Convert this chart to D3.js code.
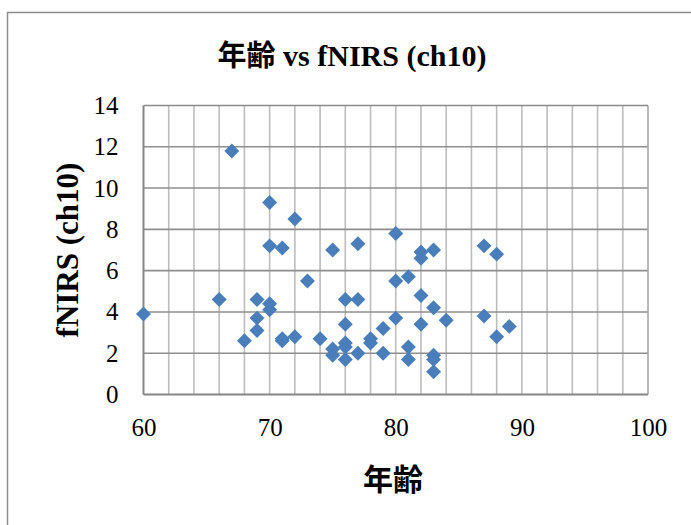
<!DOCTYPE html>
<html>
<head>
<meta charset="utf-8">
<script src="https://cdn.jsdelivr.net/npm/d3@7"></script>
<style>
  body { margin: 0; background: #fff; }
  .serif { font-family: "Liberation Serif", "Times New Roman", "DejaVu Serif", serif; }
</style>
</head>
<body>
<div class="scatter"></div>
<script>
// data
var ages  = [60, 66, 67, 68, 69, 69, 69, 70, 70, 70, 70, 71, 71, 71, 72, 72, 73, 74,
             75, 75, 75, 76, 76, 76, 76, 76, 77, 77, 77, 78, 78, 79, 79, 80, 80, 80,
             81, 81, 81, 82, 82, 82, 82, 83, 83, 83, 83, 83, 84, 87, 87, 88, 88, 89];
var fnirs = [3.9, 4.6, 11.8, 2.6, 4.6, 3.7, 3.1, 9.3, 7.2, 4.4, 4.1, 7.1, 2.7, 2.6, 8.5, 2.8, 5.5, 2.7,
             7.0, 2.2, 1.9, 4.6, 3.4, 2.5, 2.3, 1.7, 7.3, 4.6, 2.0, 2.7, 2.5, 3.2, 2.0, 7.8, 5.5, 3.7,
             5.7, 2.3, 1.7, 6.9, 6.6, 4.8, 3.4, 7.0, 4.2, 1.9, 1.7, 1.1, 3.6, 7.2, 3.8, 6.8, 2.8, 3.3];
var xTicks = [60, 70, 80, 90, 100];
var yTicks = [0, 2, 4, 6, 8, 10, 12, 14];

var titleJa = "年齢",
    titleEn = " vs fNIRS (ch10)",
    xTitle = "年齢",
    yTitle = "fNIRS (ch10)";

// graph
var W = 691, H = 525,
    margin = {top: 105.5, right: 43, bottom: 130.5, left: 143.5},
    width = W - margin.left - margin.right,
    height = H - margin.top - margin.bottom;

var svg = d3.select(".scatter").append("svg")
    .attr("width", W)
    .attr("height", H);

// outer chart frame (runs off the right and bottom)
svg.append("rect")
    .attr("x", 7.5).attr("y", 12.5)
    .attr("width", W + 20).attr("height", H + 20)
    .attr("fill", "none")
    .attr("stroke", "#8c8c8c")
    .attr("stroke-width", 1.5);

var g = svg.append("g")
    .attr("transform", "translate(" + margin.left + "," + margin.top + ")");

var x = d3.scaleLinear().domain([60, 100]).range([0, width]);
var y = d3.scaleLinear().domain([0, 14]).range([height, 0]);

// vertical minor grid every 2 years
g.selectAll(".vgrid")
    .data(d3.range(62, 100, 2))
  .enter().append("line")
    .attr("x1", d => x(d)).attr("x2", d => x(d))
    .attr("y1", 0).attr("y2", height)
    .attr("stroke", "#bcbcbc")
    .attr("stroke-width", 1.6);

// horizontal grid
g.selectAll(".hgrid")
    .data(yTicks.slice(1, -1))
  .enter().append("line")
    .attr("x1", 0).attr("x2", width)
    .attr("y1", d => y(d)).attr("y2", d => y(d))
    .attr("stroke", "#8e8e8e")
    .attr("stroke-width", 1.6);

// plot frame
g.append("line").attr("x1", width).attr("x2", width).attr("y1", 0).attr("y2", height)
    .attr("stroke", "#a8a8a8").attr("stroke-width", 1.6);
g.append("line").attr("x1", 0).attr("x2", width).attr("y1", 0).attr("y2", 0)
    .attr("stroke", "#8a8a8a").attr("stroke-width", 1.6);
g.append("line").attr("x1", 0).attr("x2", 0).attr("y1", 0).attr("y2", height)
    .attr("stroke", "#868686").attr("stroke-width", 2);
g.append("line").attr("x1", 0).attr("x2", width).attr("y1", height).attr("y2", height)
    .attr("stroke", "#868686").attr("stroke-width", 2);

// axes (labels only)
var xAxis = g.append("g")
    .call(d3.axisBottom(x).tickValues(xTicks).tickSize(0).tickPadding(26));
xAxis.attr("transform", "translate(0," + height + ")");
var yAxis = g.append("g")
    .call(d3.axisLeft(y).tickValues(yTicks).tickSize(0).tickPadding(25));
[xAxis, yAxis].forEach(a => {
  a.attr("font-family", null).attr("font-size", null);
  a.select(".domain").remove();
  a.selectAll("text")
    .attr("class", "serif")
    .attr("font-size", 25)
    .attr("fill", "#000");
});
xAxis.selectAll("text").attr("dy", "0.6em");

// points
var diamond = d3.symbol().type(d3.symbolSquare).size(112);
g.selectAll(".pt")
    .data(ages.map((a, i) => ({age: a, v: fnirs[i]})))
  .enter().append("path")
    .attr("d", diamond)
    .attr("transform", d => "translate(" + x(d.age) + "," + y(d.v) + ") rotate(45)")
    .attr("fill", "#4a7ebb");

// titles
var t = svg.append("text")
    .attr("x", 352).attr("y", 66)
    .attr("text-anchor", "middle")
    .attr("font-size", 30)
    .attr("font-weight", "bold");
t.append("tspan")
    .attr("font-family", "'Noto Sans CJK JP', sans-serif")
    .attr("font-size", 29)
    .text(titleJa);
t.append("tspan")
    .attr("class", "serif")
    .text(titleEn);

svg.append("text")
    .attr("x", 393).attr("y", 490)
    .attr("text-anchor", "middle")
    .attr("font-family", "'Noto Sans CJK JP', sans-serif")
    .attr("font-size", 30)
    .attr("font-weight", "bold")
    .text(xTitle);

svg.append("text")
    .attr("class", "serif")
    .attr("transform", "translate(78,250) rotate(-90)")
    .attr("text-anchor", "middle")
    .attr("font-size", 31)
    .attr("font-weight", "bold")
    .text(yTitle);
</script>
</body>
</html>
